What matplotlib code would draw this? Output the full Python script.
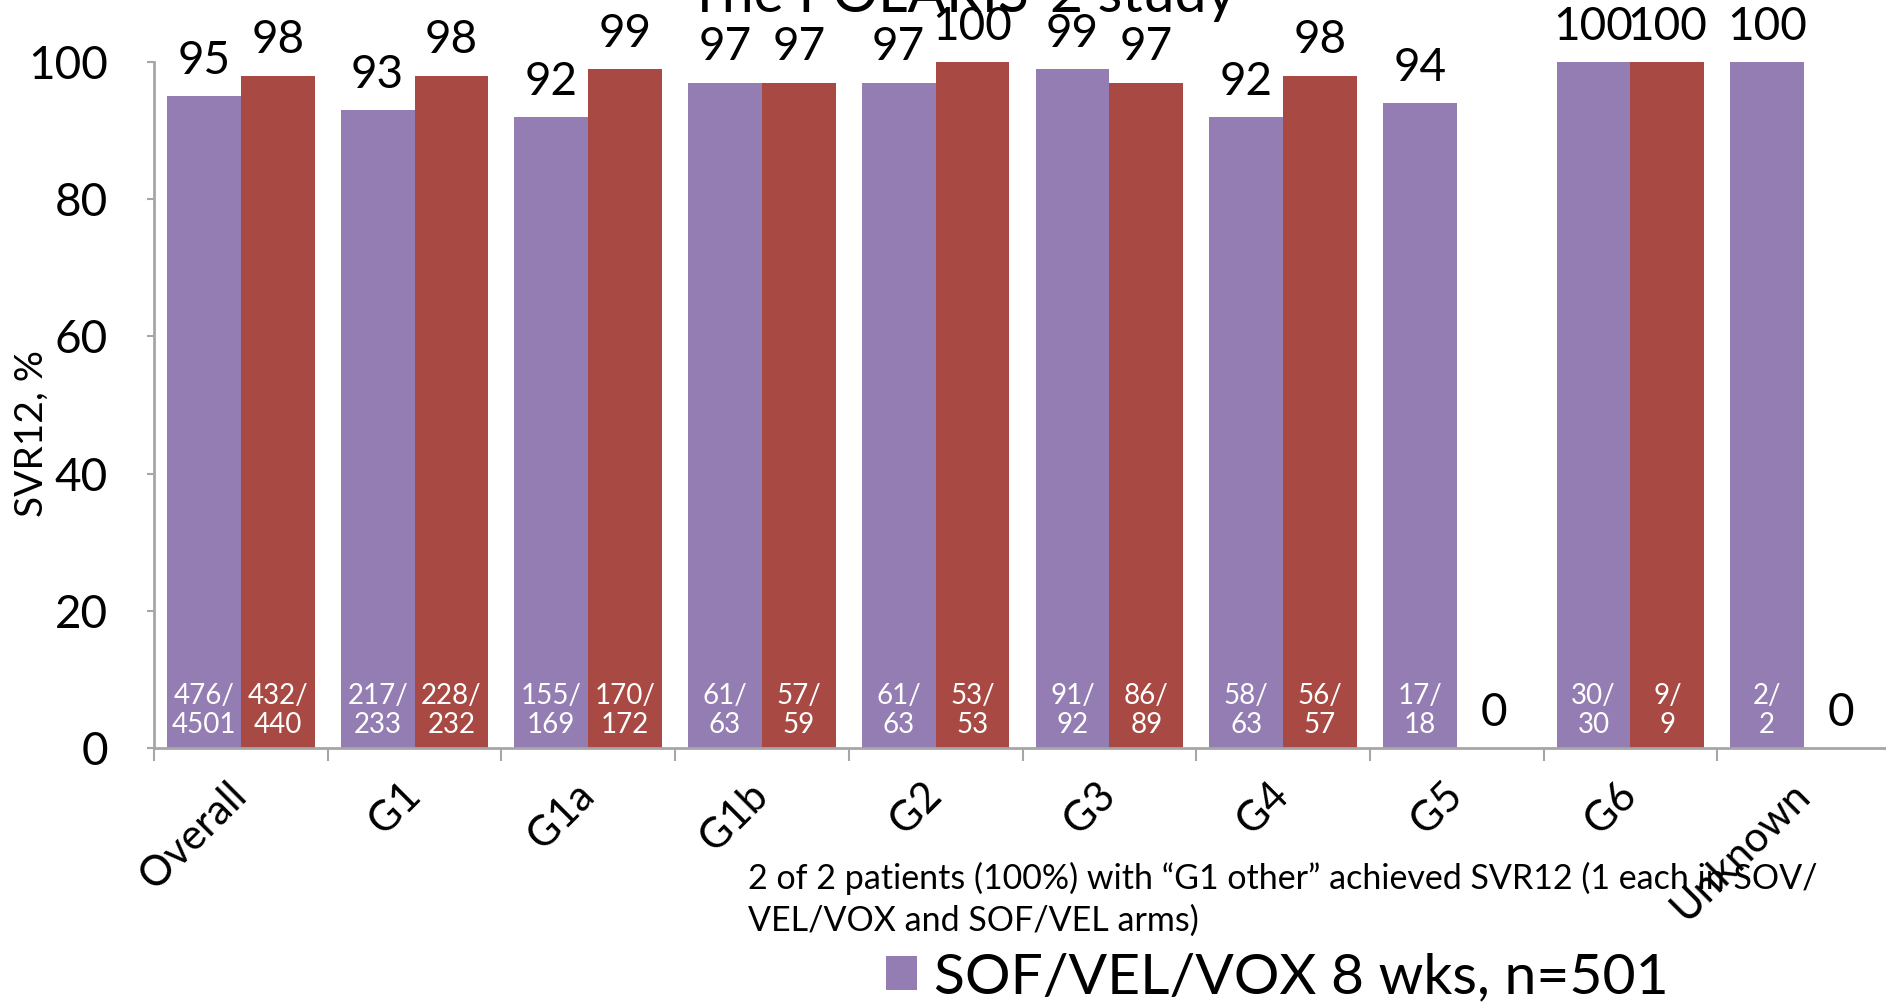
import matplotlib
matplotlib.use("Agg")
import matplotlib.pyplot as plt
import matplotlib.transforms as mtransforms
import numpy as np

plt.rcParams['font.family'] = ['Lato', 'DejaVu Sans']

# SVR12 by genotype, POLARIS-2
categories = ["Overall", "G1", "G1a", "G1b", "G2", "G3", "G4", "G5", "G6", "Unknown"]
svr_8wk = [95, 93, 92, 97, 97, 99, 92, 94, 100, 100]
svr_12wk = [98, 98, 99, 97, 100, 97, 98, 0, 100, 0]
n_8wk = ["476/\n4501", "217/\n233", "155/\n169", "61/\n63", "61/\n63",
         "91/\n92", "58/\n63", "17/\n18", "30/\n30", "2/\n2"]
n_12wk = ["432/\n440", "228/\n232", "170/\n172", "57/\n59", "53/\n53",
          "86/\n89", "56/\n57", "", "9/\n9", ""]

purple = "#937DB3"
red = "#A84A43"
grey = "#A6A6A6"

fig = plt.figure(figsize=(18.86, 10.07), dpi=100)
# axes runs past the right edge of the figure
ax = fig.add_axes([154 / 1886, 259 / 1007, 1737 / 1886, 686 / 1007])

x = np.arange(len(categories))
w = 0.425
bars1 = ax.bar(x - w / 2, svr_8wk, w, color=purple, label="SOF/VEL/VOX 8 wks, n=501")
bars2 = ax.bar(x + w / 2, svr_12wk, w, color=red)

# value on top, n/N inside at the bottom of each bar
for bars, fracs in [(bars1, n_8wk), (bars2, n_12wk)]:
    for b, frac in zip(bars, fracs):
        cx = b.get_x() + b.get_width() / 2
        ax.annotate(f"{b.get_height():g}", (cx, b.get_height()), xytext=(0, 16),
                    textcoords="offset points", ha="center", va="baseline",
                    fontsize=33, annotation_clip=False)
        if frac:
            ax.annotate(frac, (cx, 0), xytext=(0, 27), textcoords="offset points",
                        ha="center", va="center", fontsize=20, color="white",
                        linespacing=1.15)

ax.set_xlim(-0.5, len(categories) - 0.5)
ax.set_ylim(0, 100)
ax.set_yticks(range(0, 101, 20))
ax.tick_params(axis="y", labelsize=33, length=5, width=1.5, color=grey, pad=28)

ax.set_xticks(np.arange(len(categories) + 1) - 0.5)
ax.set_xticklabels([])
ax.tick_params(axis="x", which="major", length=9, width=1.5, color=grey)
ax.set_xticks(x, minor=True)
ax.set_xticklabels(categories, minor=True, rotation=45, ha="right", va="top",
                   rotation_mode="anchor", fontsize=30)
ax.tick_params(axis="x", which="minor", length=0, pad=20)
shift = mtransforms.ScaledTranslation(-14 / 100, 0, fig.dpi_scale_trans)
for lbl in ax.get_xticklabels(minor=True):
    lbl.set_transform(lbl.get_transform() + shift)

for side in ["top", "right"]:
    ax.spines[side].set_visible(False)
for side in ["left", "bottom"]:
    ax.spines[side].set_color(grey)
    ax.spines[side].set_linewidth(2)

ax.set_ylabel("SVR12, %", fontsize=28)
ax.yaxis.set_label_coords(-104 / 1737, 0.459)

fig.text(962 / 1886, 1 - 12 / 1007, "The POLARIS-2 study", ha="center", va="baseline",
         fontsize=41)

fig.text(748 / 1886, 1 - 862 / 1007,
         "2 of 2 patients (100%) with \u201cG1 other\u201d achieved SVR12 (1 each in SOV/\n"
         "VEL/VOX and SOF/VEL arms)",
         ha="left", va="top", fontsize=24.5, linespacing=1.35, zorder=-1)

fig.legend(handles=[bars1], loc="upper left", bbox_to_anchor=(886 / 1886, 1 - 952 / 1007),
           frameon=False, fontsize=41, handlelength=0.55, handleheight=0.55,
           handletextpad=0.3, borderpad=0, borderaxespad=0)

fig.savefig("out.png", dpi=100)
